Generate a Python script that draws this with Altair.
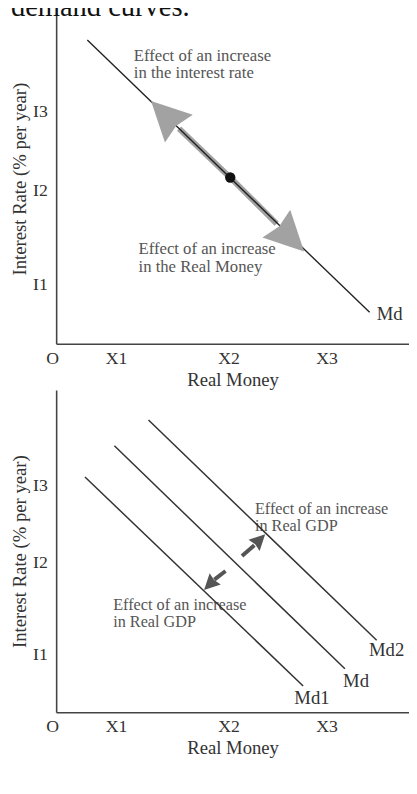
import altair as alt
import pandas as pd

FONT = "Liberation Serif"

# ---------------- axis ticks ----------------
x_tick_vals = [0, 1.02, 2.93, 4.6]
x_tick_labels = ["O", "X1", "X2", "X3"]
y_tick_vals = [1.07, 2.79, 4.22]
y_tick_labels = ["I1", "I2", "I3"]

# ---------------- cropped caption fragment above the chart ----------------
caption_text = ["demand curves."]
caption_x = [-0.77]
caption_y = [5.955]

# ---------------- top panel data ----------------
top_md_x = [0.53, 5.33]
top_md_y = [5.52, 0.57]
top_dot_x = [2.96]
top_dot_y = [3.02]
top_shaft_seg = ["up", "up", "down", "down"]
top_shaft_x = [2.96, 2.09, 2.96, 3.75]
top_shaft_y = [3.02, 3.91, 3.02, 2.18]
top_head_x = [1.85, 3.98]
top_head_y = [4.16, 1.93]
top_head_angle = [315, 135]
top_text = ["Effect of an increase", "in the interest rate",
            "Effect of an increase", "in the Real Money"]
top_text_x = [1.32, 1.32, 1.40, 1.40]
top_text_y = [5.22, 4.91, 1.72, 1.40]
top_label = ["Md"]
top_label_x = [5.45]
top_label_y = [0.53]

# ---------------- bottom panel data ----------------
bot_curve = ["Md1", "Md1", "Md", "Md", "Md2", "Md2"]
bot_curve_x = [0.49, 4.20, 0.99, 4.91, 1.57, 5.45]
bot_curve_y = [4.38, 0.49, 4.96, 0.81, 5.44, 1.34]
bot_shaft_seg = ["out", "out", "in", "in"]
bot_shaft_x = [3.16, 3.37, 2.88, 2.69]
bot_shaft_y = [2.91, 3.11, 2.63, 2.47]
bot_head_x = [3.46, 2.61]
bot_head_y = [3.21, 2.38]
bot_head_angle = [45, 225]
bot_text = ["Effect of an increase", "in Real GDP",
            "Effect of an increase", "in Real GDP"]
bot_text_x = [3.38, 3.38, 0.97, 0.97]
bot_text_y = [3.78, 3.46, 1.99, 1.68]
bot_label = ["Md1", "Md", "Md2"]
bot_label_x = [4.35, 5.10, 5.62]
bot_label_y = [0.26, 0.58, 1.15]

W = 359
H_TOP = 336
H_BOT = 328

x_expr = "[" + ",".join("'%s'" % s for s in x_tick_labels) + "][indexof([" + \
    ",".join(str(v) for v in x_tick_vals) + "], datum.value)]"
y_expr = "[" + ",".join("'%s'" % s for s in y_tick_labels) + "][indexof([" + \
    ",".join(str(v) for v in y_tick_vals) + "], datum.value)]"

HEAD = "M0,-1L1,1L0,0.8L-1,1Z"


def x_enc(title_pad):
    return alt.X("x:Q", scale=alt.Scale(domain=[0, 6], nice=False, zero=False),
                 axis=alt.Axis(values=x_tick_vals, labelExpr=x_expr, title="Real Money",
                               ticks=False, tickSize=0, grid=False, labelFlush=False,
                               labelOverlap=False, domainColor="#444", domainWidth=1.6,
                               labelFont=FONT, labelFontSize=18, labelColor="#333",
                               labelPadding=6,
                               labelOffset={"condition": {"test": "datum.value === 0", "value": -4},
                                            "value": 0},
                               titleFont=FONT, titleFontSize=19, titleFontWeight="normal",
                               titleColor="#333", titlePadding=title_pad))


def y_enc():
    return alt.Y("y:Q", scale=alt.Scale(domain=[0, 6], nice=False, zero=False),
                 axis=alt.Axis(values=y_tick_vals, labelExpr=y_expr,
                               title="Interest Rate (% per year)",
                               ticks=False, tickSize=0, grid=False, labelFlush=False,
                               labelOverlap=False, domainColor="#444", domainWidth=1.6,
                               labelFont=FONT, labelFontSize=18, labelColor="#333",
                               labelPadding=9,
                               titleFont=FONT, titleFontSize=19, titleFontWeight="normal",
                               titleColor="#333", titlePadding=3))


# ---------------- top panel ----------------
t_md = pd.DataFrame({"x": top_md_x, "y": top_md_y})
t_dot = pd.DataFrame({"x": top_dot_x, "y": top_dot_y})
t_shaft = pd.DataFrame({"x": top_shaft_x, "y": top_shaft_y, "seg": top_shaft_seg})
t_head = pd.DataFrame({"x": top_head_x, "y": top_head_y, "angle": top_head_angle})
t_text = pd.DataFrame({"x": top_text_x, "y": top_text_y, "t": top_text})
t_lab = pd.DataFrame({"x": top_label_x, "y": top_label_y, "t": top_label})
t_cap = pd.DataFrame({"x": caption_x, "y": caption_y, "t": caption_text})

TX = lambda: x_enc(4)
top_shaft = alt.Chart(t_shaft).mark_line(color="#a2a2a2", strokeWidth=6, strokeCap="butt").encode(
    x=TX(), y=y_enc(), detail="seg:N")
top_line = alt.Chart(t_md).mark_line(color="#222", strokeWidth=1.4).encode(x=TX(), y=y_enc())
top_head = alt.Chart(t_head).mark_point(shape=HEAD, filled=True, color="#a2a2a2",
                                          opacity=1, size=1600, strokeWidth=0).encode(
    x=TX(), y=y_enc(), angle=alt.Angle("angle:Q", scale=None))
top_dot = alt.Chart(t_dot).mark_point(shape="circle", filled=True, color="#111",
                                        opacity=1, size=110).encode(x=TX(), y=y_enc())
top_txt = alt.Chart(t_text).mark_text(align="left", baseline="middle", font=FONT,
                                        fontSize=17, color="#555").encode(
    x=TX(), y=y_enc(), text="t:N")
top_lab = alt.Chart(t_lab).mark_text(align="left", baseline="middle", font=FONT,
                                       fontSize=19, color="#333").encode(
    x=TX(), y=y_enc(), text="t:N")
top_cap = alt.Chart(t_cap).mark_text(align="left", baseline="alphabetic", font=FONT,
                                       fontSize=29, color="#111").encode(
    x=TX(), y=y_enc(), text="t:N")

top = alt.layer(top_shaft, top_line, top_head, top_dot, top_txt, top_lab, top_cap).properties(
    width=W, height=H_TOP)

# ---------------- bottom panel ----------------
b_curve = pd.DataFrame({"x": bot_curve_x, "y": bot_curve_y, "c": bot_curve})
b_shaft = pd.DataFrame({"x": bot_shaft_x, "y": bot_shaft_y, "seg": bot_shaft_seg})
b_head = pd.DataFrame({"x": bot_head_x, "y": bot_head_y, "angle": bot_head_angle})
b_text = pd.DataFrame({"x": bot_text_x, "y": bot_text_y, "t": bot_text})
b_lab = pd.DataFrame({"x": bot_label_x, "y": bot_label_y, "t": bot_label})

BX = lambda: x_enc(3)
bot_lines = alt.Chart(b_curve).mark_line(color="#333", strokeWidth=1.5).encode(
    x=BX(), y=y_enc(), detail="c:N")
bot_txt = alt.Chart(b_text).mark_text(align="left", baseline="middle", font=FONT,
                                        fontSize=16.5, color="#555").encode(
    x=BX(), y=y_enc(), text="t:N")
bot_shaft = alt.Chart(b_shaft).mark_line(color="#555", strokeWidth=4, strokeCap="butt").encode(
    x=BX(), y=y_enc(), detail="seg:N")
bot_head = alt.Chart(b_head).mark_point(shape=HEAD, filled=True, color="#555",
                                          opacity=1, size=256, strokeWidth=0).encode(
    x=BX(), y=y_enc(), angle=alt.Angle("angle:Q", scale=None))
bot_lab = alt.Chart(b_lab).mark_text(align="center", baseline="middle", font=FONT,
                                       fontSize=19, color="#333").encode(
    x=BX(), y=y_enc(), text="t:N")

bottom = alt.layer(bot_txt, bot_lines, bot_shaft, bot_head, bot_lab).properties(
    width=W, height=H_BOT)

chart = alt.vconcat(top, bottom, spacing=0).properties(
    padding={"left": 2, "top": -22, "right": 0, "bottom": 0}, background="white"
).configure_view(strokeWidth=0)

chart.save("out.html", embed_options={"renderer": "svg", "actions": False})
